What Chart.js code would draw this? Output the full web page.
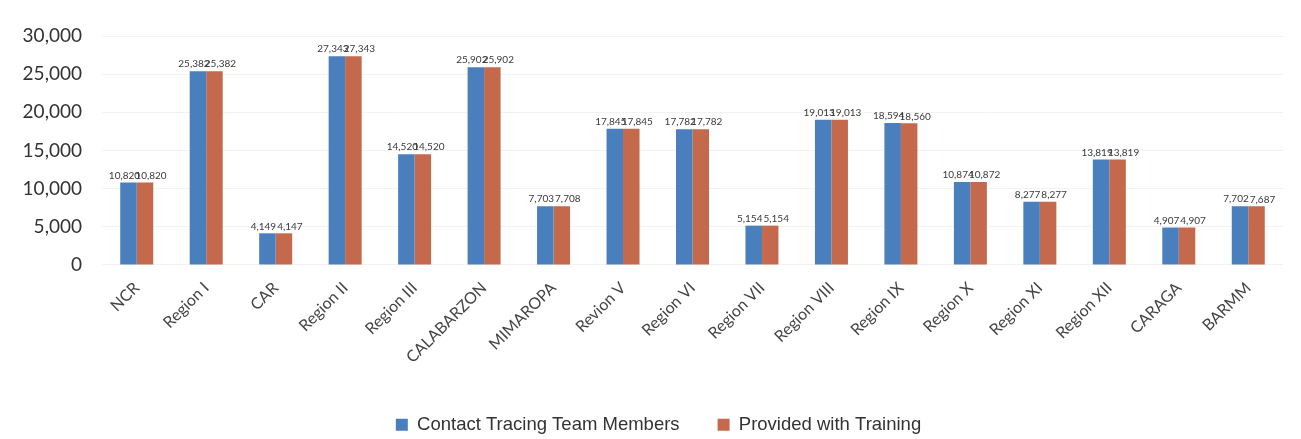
<!DOCTYPE html>
<html>
<head>
<meta charset="utf-8">
<script src="https://cdn.jsdelivr.net/npm/chart.js@4"></script>
<style>
  html, body { margin: 0; padding: 0; background: #fff; }
  #wrap { width: 1301px; height: 439px; }
</style>
</head>
<body>
<div id="wrap"><canvas id="myChart" width="1301" height="439"></canvas></div>
<script>
// data
var regions = ['NCR', 'Region I', 'CAR', 'Region II', 'Region III', 'CALABARZON', 'MIMAROPA', 'Revion V', 'Region VI',
  'Region VII', 'Region VIII', 'Region IX', 'Region X', 'Region XI', 'Region XII', 'CARAGA', 'BARMM'];
var teamMembers = [10820, 25382, 4149, 27343, 14520, 25902, 7703, 17845, 17782, 5154, 19013, 18594, 10874, 8277, 13819, 4907, 7702];
var withTraining = [10820, 25382, 4147, 27343, 14520, 25902, 7708, 17845, 17782, 5154, 19013, 18560, 10872, 8277, 13819, 4907, 7687];
var yTicks = [0, 5000, 10000, 15000, 20000, 25000, 30000];

// small labels above each bar (blue one pulled left, orange one pushed right)
var barLabels = {
  id: 'barLabels',
  afterDatasetsDraw: function (chart) {
    var ctx = chart.ctx;
    var nudge = [-4, 6];
    ctx.save();
    ctx.font = '10px Lato';
    ctx.fillStyle = '#3a3a3a';
    ctx.textAlign = 'center';
    ctx.textBaseline = 'bottom';
    chart.data.datasets.forEach(function (ds, i) {
      chart.getDatasetMeta(i).data.forEach(function (bar, j) {
        ctx.fillText(ds.data[j].toLocaleString('en-US'), bar.x + nudge[i], bar.y - 2);
      });
    });
    ctx.restore();
  }
};

// nudge the legend down/right a little, like the original
var legendShift = {
  id: 'legendShift',
  afterLayout: function (chart) {
    chart.legend.top += 5;
    chart.legend.bottom += 5;
    chart.legend.left += 17;
    chart.legend.right += 17;
  }
};

var ctx = document.getElementById('myChart').getContext('2d');
var myChart = new Chart(ctx, {
  type: 'bar',
  data: {
    labels: regions,
    datasets: [
      {
        label: 'Contact Tracing Team Members',
        data: teamMembers,
        backgroundColor: '#4a7fbd',
        categoryPercentage: 0.475,
        barPercentage: 1.0,
      },
      {
        label: 'Provided with Training',
        data: withTraining,
        backgroundColor: '#c4694b',
        categoryPercentage: 0.475,
        barPercentage: 1.0,
      },
    ],
  },
  options: {
    responsive: false,
    animation: false,
    layout: { padding: { top: 36, right: 18, left: 0, bottom: 0 } },
    scales: {
      y: {
        min: 0,
        max: 30000,
        afterBuildTicks: function (axis) {
          axis.ticks = yTicks.map(function (v) { return { value: v }; });
        },
        afterFit: function (axis) {
          axis.width = 102;
        },
        ticks: {
          color: '#333',
          padding: 20,
          font: { size: 19, family: 'Lato' },
          callback: function (value) { return value.toLocaleString('en-US'); },
        },
        grid: { color: '#f2f2f2', drawTicks: false },
        border: { display: false },
      },
      x: {
        ticks: {
          color: '#444',
          padding: 5.5,
          minRotation: 45,
          maxRotation: 45,
          font: { size: 16, family: 'Lato' },
        },
        grid: { display: false },
        border: { display: false },
      },
    },
    plugins: {
      legend: {
        position: 'bottom',
        labels: {
          color: '#333',
          boxWidth: 12,
          boxHeight: 12,
          padding: 38,
          font: { size: 18.5, family: "'Liberation Sans Narrow', 'Liberation Sans'" },
        },
      },
      tooltip: { enabled: false },
    },
  },
  plugins: [barLabels, legendShift],
});
</script>
</body>
</html>
